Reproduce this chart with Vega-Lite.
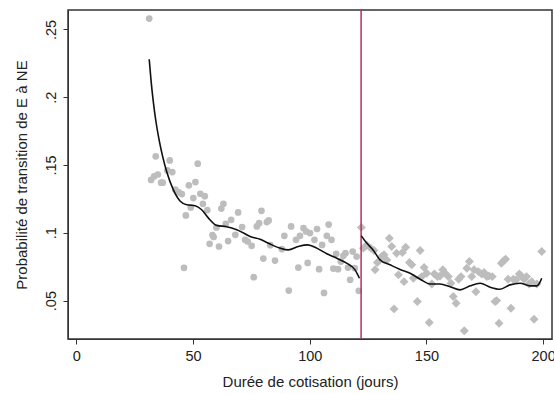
{
  "$schema": "https://vega.github.io/schema/vega-lite/v6.json",
  "autosize": {"type": "none"},
  "padding": {"left": 68, "top": 10, "right": 2, "bottom": 55},
  "width": 484,
  "height": 329,
  "background": "white",
  "config": {
    "font": "Liberation Sans",
    "view": {"stroke": "#333333", "strokeWidth": 1.5},
    "axis": {"grid": false, "domainColor": "#333333", "tickColor": "#333333", "tickSize": 5, "labelFontSize": 14.5, "titleFontSize": 15, "labelColor": "#222222", "titleColor": "#222222", "titleFontWeight": "normal"}
  },
  "datasets": {
    "pts": [
      {"x":31.2,"y":0.258,"g":"avant"},{"x":32,"y":0.139,"g":"avant"},{"x":33.3,"y":0.1416,"g":"avant"},{"x":34,"y":0.1564,"g":"avant"},{"x":34.9,"y":0.143,"g":"avant"},{"x":36.3,"y":0.137,"g":"avant"},{"x":37,"y":0.137,"g":"avant"},{"x":39,"y":0.146,"g":"avant"},{"x":40,"y":0.1534,"g":"avant"},{"x":41.1,"y":0.1448,"g":"avant"},{"x":42.4,"y":0.1318,"g":"avant"},{"x":43.9,"y":0.1298,"g":"avant"},{"x":45.2,"y":0.1286,"g":"avant"},{"x":46.1,"y":0.0742,"g":"avant"},{"x":46.9,"y":0.1128,"g":"avant"},{"x":48.2,"y":0.135,"g":"avant"},{"x":49,"y":0.1187,"g":"avant"},{"x":50.1,"y":0.1256,"g":"avant"},{"x":51,"y":0.1374,"g":"avant"},{"x":52,"y":0.151,"g":"avant"},{"x":53.1,"y":0.1288,"g":"avant"},{"x":54.2,"y":0.1214,"g":"avant"},{"x":55,"y":0.127,"g":"avant"},{"x":56.1,"y":0.1168,"g":"avant"},{"x":57.1,"y":0.0919,"g":"avant"},{"x":58.3,"y":0.0983,"g":"avant"},{"x":58.8,"y":0.097,"g":"avant"},{"x":60,"y":0.104,"g":"avant"},{"x":61.1,"y":0.0899,"g":"avant"},{"x":62.1,"y":0.1179,"g":"avant"},{"x":63,"y":0.1214,"g":"avant"},{"x":64,"y":0.1066,"g":"avant"},{"x":65,"y":0.0939,"g":"avant"},{"x":66.3,"y":0.1096,"g":"avant"},{"x":68.1,"y":0.0985,"g":"avant"},{"x":69.3,"y":0.115,"g":"avant"},{"x":71,"y":0.1042,"g":"avant"},{"x":72.3,"y":0.0948,"g":"avant"},{"x":73.4,"y":0.0936,"g":"avant"},{"x":75.1,"y":0.0904,"g":"avant"},{"x":76,"y":0.0673,"g":"avant"},{"x":77.3,"y":0.1047,"g":"avant"},{"x":78.3,"y":0.1071,"g":"avant"},{"x":79.3,"y":0.1162,"g":"avant"},{"x":80.1,"y":0.081,"g":"avant"},{"x":81.6,"y":0.1079,"g":"avant"},{"x":82.4,"y":0.1091,"g":"avant"},{"x":83.1,"y":0.0909,"g":"avant"},{"x":85.1,"y":0.0795,"g":"avant"},{"x":88,"y":0.088,"g":"avant"},{"x":89.1,"y":0.0978,"g":"avant"},{"x":91,"y":0.0574,"g":"avant"},{"x":92,"y":0.1047,"g":"avant"},{"x":94.1,"y":0.0948,"g":"avant"},{"x":95.1,"y":0.0744,"g":"avant"},{"x":95.8,"y":0.0978,"g":"avant"},{"x":97.3,"y":0.1035,"g":"avant"},{"x":98.4,"y":0.101,"g":"avant"},{"x":99.1,"y":0.0778,"g":"avant"},{"x":100.1,"y":0.0998,"g":"avant"},{"x":102,"y":0.0948,"g":"avant"},{"x":103.1,"y":0.1028,"g":"avant"},{"x":104,"y":0.0732,"g":"avant"},{"x":105.3,"y":0.0911,"g":"avant"},{"x":106.1,"y":0.0557,"g":"avant"},{"x":107.3,"y":0.0978,"g":"avant"},{"x":108.1,"y":0.1061,"g":"avant"},{"x":109.3,"y":0.0948,"g":"avant"},{"x":110.1,"y":0.0736,"g":"avant"},{"x":111.3,"y":0.0845,"g":"avant"},{"x":112.1,"y":0.0732,"g":"avant"},{"x":113.3,"y":0.0788,"g":"avant"},{"x":114.4,"y":0.083,"g":"avant"},{"x":115.3,"y":0.085,"g":"avant"},{"x":116.4,"y":0.0744,"g":"avant"},{"x":117.3,"y":0.0653,"g":"avant"},{"x":118.4,"y":0.0862,"g":"avant"},{"x":119.3,"y":0.0739,"g":"avant"},{"x":120.1,"y":0.0825,"g":"avant"},{"x":121,"y":0.0572,"g":"avant"},
      {"x":122.1,"y":0.104,"g":"apres"},{"x":123,"y":0.0887,"g":"apres"},{"x":124.4,"y":0.0911,"g":"apres"},{"x":126.1,"y":0.0887,"g":"apres"},{"x":127.5,"y":0.087,"g":"apres"},{"x":128,"y":0.0727,"g":"apres"},{"x":129,"y":0.0781,"g":"apres"},{"x":130.8,"y":0.0825,"g":"apres"},{"x":131.8,"y":0.0838,"g":"apres"},{"x":133,"y":0.08,"g":"apres"},{"x":134.1,"y":0.096,"g":"apres"},{"x":135.1,"y":0.0899,"g":"apres"},{"x":136.1,"y":0.0439,"g":"apres"},{"x":137.2,"y":0.085,"g":"apres"},{"x":138,"y":0.069,"g":"apres"},{"x":139.7,"y":0.0855,"g":"apres"},{"x":140.4,"y":0.064,"g":"apres"},{"x":141.1,"y":0.0894,"g":"apres"},{"x":142.7,"y":0.0781,"g":"apres"},{"x":143.7,"y":0.0764,"g":"apres"},{"x":144.4,"y":0.0665,"g":"apres"},{"x":146.1,"y":0.0493,"g":"apres"},{"x":147.3,"y":0.087,"g":"apres"},{"x":148,"y":0.0677,"g":"apres"},{"x":149,"y":0.0744,"g":"apres"},{"x":150.1,"y":0.0702,"g":"apres"},{"x":151.2,"y":0.0338,"g":"apres"},{"x":152.3,"y":0.0623,"g":"apres"},{"x":153.4,"y":0.0697,"g":"apres"},{"x":154.7,"y":0.0677,"g":"apres"},{"x":155.8,"y":0.0682,"g":"apres"},{"x":157,"y":0.0727,"g":"apres"},{"x":158,"y":0.0702,"g":"apres"},{"x":159.4,"y":0.0677,"g":"apres"},{"x":160.5,"y":0.0628,"g":"apres"},{"x":161.5,"y":0.053,"g":"apres"},{"x":162.7,"y":0.048,"g":"apres"},{"x":163.8,"y":0.0658,"g":"apres"},{"x":164.8,"y":0.0677,"g":"apres"},{"x":166.2,"y":0.0278,"g":"apres"},{"x":167.3,"y":0.0739,"g":"apres"},{"x":168.4,"y":0.0788,"g":"apres"},{"x":169.4,"y":0.0677,"g":"apres"},{"x":170.4,"y":0.0727,"g":"apres"},{"x":171.2,"y":0.0566,"g":"apres"},{"x":172.2,"y":0.0714,"g":"apres"},{"x":173.7,"y":0.0697,"g":"apres"},{"x":174.7,"y":0.0707,"g":"apres"},{"x":175.8,"y":0.0677,"g":"apres"},{"x":176.8,"y":0.0682,"g":"apres"},{"x":178.2,"y":0.0677,"g":"apres"},{"x":179.4,"y":0.0493,"g":"apres"},{"x":180.1,"y":0.05,"g":"apres"},{"x":181.1,"y":0.0333,"g":"apres"},{"x":182.1,"y":0.0776,"g":"apres"},{"x":183.2,"y":0.0795,"g":"apres"},{"x":183.9,"y":0.0806,"g":"apres"},{"x":185,"y":0.0658,"g":"apres"},{"x":186.2,"y":0.0444,"g":"apres"},{"x":187.2,"y":0.0658,"g":"apres"},{"x":188.4,"y":0.0653,"g":"apres"},{"x":189.8,"y":0.0697,"g":"apres"},{"x":190.8,"y":0.0677,"g":"apres"},{"x":191.9,"y":0.0658,"g":"apres"},{"x":192.9,"y":0.0677,"g":"apres"},{"x":194,"y":0.0623,"g":"apres"},{"x":195.1,"y":0.064,"g":"apres"},{"x":196.1,"y":0.0363,"g":"apres"},{"x":197.3,"y":0.0623,"g":"apres"},{"x":199.4,"y":0.0862,"g":"apres"}
    ],
    "fit": [
      {"x":31.2,"y":0.228,"s":"a"},{"x":32,"y":0.212,"s":"a"},{"x":33,"y":0.196,"s":"a"},{"x":34,"y":0.183,"s":"a"},{"x":35.5,"y":0.168,"s":"a"},{"x":37,"y":0.156,"s":"a"},{"x":38.7,"y":0.145,"s":"a"},{"x":41.6,"y":0.1315,"s":"a"},{"x":44.4,"y":0.1235,"s":"a"},{"x":47.3,"y":0.1207,"s":"a"},{"x":50.9,"y":0.12,"s":"a"},{"x":53.7,"y":0.117,"s":"a"},{"x":56.6,"y":0.1108,"s":"a"},{"x":60.2,"y":0.1054,"s":"a"},{"x":64.4,"y":0.1045,"s":"a"},{"x":68.7,"y":0.1022,"s":"a"},{"x":72,"y":0.0995,"s":"a"},{"x":74.4,"y":0.0973,"s":"a"},{"x":78.7,"y":0.0953,"s":"a"},{"x":83,"y":0.0917,"s":"a"},{"x":87.3,"y":0.0887,"s":"a"},{"x":90.8,"y":0.0874,"s":"a"},{"x":95.1,"y":0.0899,"s":"a"},{"x":99,"y":0.0911,"s":"a"},{"x":103,"y":0.0887,"s":"a"},{"x":107.3,"y":0.0845,"s":"a"},{"x":111.6,"y":0.0813,"s":"a"},{"x":115.8,"y":0.0776,"s":"a"},{"x":119.4,"y":0.0727,"s":"a"},{"x":121.3,"y":0.0665,"s":"a"},
      {"x":122.1,"y":0.0978,"s":"b"},{"x":124.4,"y":0.0924,"s":"b"},{"x":127.3,"y":0.087,"s":"b"},{"x":130.1,"y":0.08,"s":"b"},{"x":134.4,"y":0.0764,"s":"b"},{"x":138.7,"y":0.073,"s":"b"},{"x":143,"y":0.0702,"s":"b"},{"x":147.3,"y":0.0658,"s":"b"},{"x":151.5,"y":0.0623,"s":"b"},{"x":155.8,"y":0.0623,"s":"b"},{"x":160.1,"y":0.0603,"s":"b"},{"x":164.4,"y":0.0579,"s":"b"},{"x":168.7,"y":0.0609,"s":"b"},{"x":173,"y":0.0628,"s":"b"},{"x":177.3,"y":0.0599,"s":"b"},{"x":181.5,"y":0.0584,"s":"b"},{"x":185.8,"y":0.0616,"s":"b"},{"x":190.1,"y":0.0628,"s":"b"},{"x":194.4,"y":0.0609,"s":"b"},{"x":197.3,"y":0.0609,"s":"b"},{"x":198.4,"y":0.0628,"s":"b"},{"x":199.4,"y":0.0665,"s":"b"}
    ],
    "cut": [{"x": 122}]
  },
  "layer": [
    {
      "data": {"name": "pts"},
      "mark": {"type": "point", "filled": true, "opacity": 1, "color": "#bdbdbd"},
      "encoding": {
        "x": {"field": "x", "type": "quantitative", "scale": {"domain": [-3.6, 203.8], "nice": false, "zero": false},
              "axis": {"values": [0, 50, 100, 150, 200], "title": "Durée de cotisation (jours)", "labelPadding": 5, "titlePadding": 12}},
        "y": {"field": "y", "type": "quantitative", "scale": {"domain": [0.0217, 0.2643], "nice": false, "zero": false},
              "axis": {"values": [0.05, 0.1, 0.15, 0.2, 0.25], "labelExpr": "substring(format(datum.value, '.2~f'), 1)", "labelAngle": -90, "labelAlign": "center", "labelBaseline": "bottom", "labelPadding": 5, "title": "Probabilité de transition de E à NE", "titlePadding": 14}},
        "shape": {"field": "g", "type": "nominal", "scale": {"domain": ["avant", "apres"], "range": ["circle", "diamond"]}, "legend": null},
        "size": {"field": "g", "type": "nominal", "scale": {"domain": ["avant", "apres"], "range": [45, 80]}, "legend": null}
      }
    },
    {
      "data": {"name": "cut"},
      "mark": {"type": "rule", "color": "#b5305e", "strokeWidth": 1.5},
      "encoding": {"x": {"field": "x", "type": "quantitative"}}
    },
    {
      "data": {"name": "fit"},
      "mark": {"type": "line", "color": "#111111", "strokeWidth": 1.6, "interpolate": "monotone"},
      "encoding": {
        "x": {"field": "x", "type": "quantitative"},
        "y": {"field": "y", "type": "quantitative"},
        "detail": {"field": "s", "type": "nominal"}
      }
    }
  ]
}
